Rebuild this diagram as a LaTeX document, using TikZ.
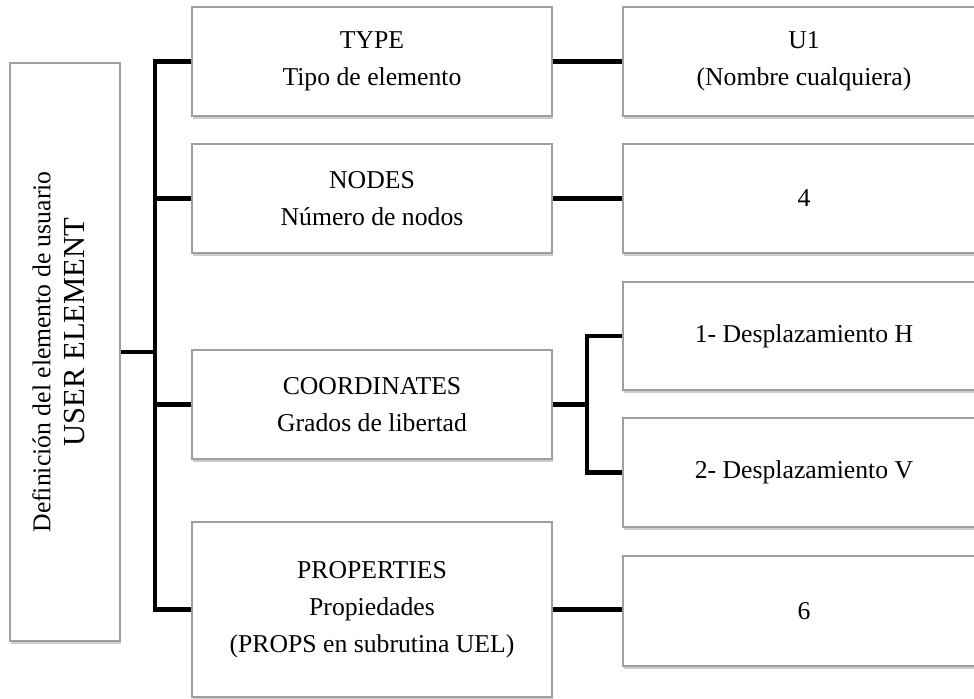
\documentclass[tikz,border=0pt]{standalone}
\usepackage{fontspec}
\setmainfont{Liberation Serif}
\usetikzlibrary{shadows}

\tikzset{
  box/.style={draw=gray!75, line width=0.6pt, fill=white, align=center,
    font=\fontsize{12.85}{18.5}\selectfont, inner sep=0pt,
    drop shadow={shadow xshift=0.5pt, shadow yshift=-1.6pt, opacity=0.4, fill=gray}},
  midbox/.style={box, minimum width=180pt},
  endbox/.style={box, minimum width=181pt},
  link/.style={line width=2.3pt}
}

\begin{document}
\begin{tikzpicture}[x=0.5pt, y=-0.5pt]
\useasboundingbox (0,0) rectangle (974,699);

% root of the tree
\node [box, rotate=90, minimum width=289pt, minimum height=55pt,
  font=\fontsize{12.85}{17}\selectfont, text depth=6.6pt] (user) at (65,352)
  {Definición del elemento de usuario\\{\fontsize{15.3}{17}\selectfont\hspace*{20pt}USER ELEMENT}};

% middle column
\node [midbox, minimum height=54.5pt] (type) at (372,61.5) {TYPE\\Tipo de elemento};
\node [midbox, minimum height=54.5pt] (nodes) at (372,198.5) {NODES\\Número de nodos};
\node [midbox, minimum height=54.5pt] (coord) at (372,404.5) {COORDINATES\\Grados de libertad};
\node [midbox, minimum height=87.5pt] (props) at (372,609.5)
  {PROPERTIES\\Propiedades\\(PROPS en subrutina UEL)};

% right column
\node [endbox, minimum height=54.5pt] (name) at (804,61.5) {U1\\(Nombre cualquiera)};
\node [endbox, minimum height=54.5pt] (nnodes) at (804,198.5) {4};
\node [endbox, minimum height=54pt] (dh) at (804,336) {1- Desplazamiento H};
\node [endbox, minimum height=54.5pt] (dv) at (804,472.5) {2- Desplazamiento V};
\node [endbox, minimum height=55pt] (nprops) at (804,611) {6};

\coordinate (trunk) at (155,352);
\coordinate (sub) at (587,404.5);

% connectors
\draw [link] (user.south) -- (trunk);
\draw [link] (type.west) -- (type.west -| trunk) -- (props.west -| trunk) -- (props.west);
\draw [link] (nodes.west) -- (nodes.west -| trunk);
\draw [link] (coord.west) -- (coord.west -| trunk);

\draw [link] (type.east) -- (name.west);
\draw [link] (nodes.east) -- (nnodes.west);
\draw [link] (coord.east) -- (sub);
\draw [link] (dh.west) -- (dh.west -| sub) -- (dv.west -| sub) -- (dv.west);
\draw [link] (props.east) -- (props.east -| nprops.west);

\end{tikzpicture}
\end{document}
